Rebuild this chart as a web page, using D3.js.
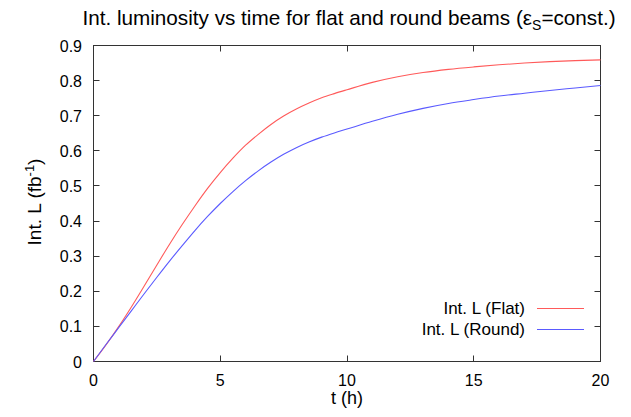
<!DOCTYPE html>
<html><head><meta charset="utf-8">
<script src="https://cdn.jsdelivr.net/npm/d3@7/dist/d3.min.js"></script>
<style>body{margin:0;background:#fff}svg{display:block}text{font-family:"Liberation Sans",Arial,sans-serif;fill:#000}</style>
</head><body>
<script>
const times = [0,0.5,1,1.5,2,2.5,3,3.5,4,4.5,5,5.5,6,6.5,7,7.5,8,8.5,9,9.5,10,11,12,13,14,15,16,17,18,19,20];
const flatL = [0,0.048,0.1,0.156,0.215,0.275,0.334,0.39,0.443,0.493,0.538,0.579,0.616,0.647,0.675,0.699,0.719,0.736,0.751,0.763,0.774,0.795,0.811,0.823,0.832,0.839,0.845,0.85,0.854,0.857,0.859];
const roundL = [0,0.049,0.097,0.145,0.193,0.24,0.286,0.33,0.373,0.413,0.45,0.484,0.515,0.543,0.568,0.59,0.609,0.625,0.639,0.651,0.662,0.684,0.704,0.721,0.735,0.746,0.756,0.764,0.772,0.779,0.786];
const xTicks = [0,5,10,15,20];
const yTicks = [0,0.1,0.2,0.3,0.4,0.5,0.6,0.7,0.8,0.9];
const seriesNames = ["Int. L (Flat)","Int. L (Round)"];
const seriesColors = ["#ff5a5a","#5a5aff"];

const W=631,H=417, L=93.5, R=600.5, T=45.5, B=361.5;
const svg=d3.select("body").append("svg").attr("width",W).attr("height",H);
const x=d3.scaleLinear().domain([0,20]).range([L,R]);
const y=d3.scaleLinear().domain([0,0.9]).range([B,T]);
const tl=6;

svg.append("rect").attr("x",L).attr("y",T).attr("width",R-L).attr("height",B-T).attr("fill","none").attr("stroke","#333").attr("stroke-width",1);

const g=svg.append("g").attr("stroke","#333").attr("stroke-width",1);
xTicks.forEach(t=>{
  const px=Math.round(x(t)-0.5)+0.5;
  g.append("line").attr("x1",px).attr("x2",px).attr("y1",B).attr("y2",B-tl);
  g.append("line").attr("x1",px).attr("x2",px).attr("y1",T).attr("y2",T+tl);
});
yTicks.forEach(t=>{
  const py=Math.round(y(t)-0.5)+0.5;
  g.append("line").attr("x1",L).attr("x2",L+tl).attr("y1",py).attr("y2",py);
  g.append("line").attr("x1",R).attr("x2",R-tl).attr("y1",py).attr("y2",py);
});
xTicks.forEach(t=>{
  svg.append("text").attr("x",x(t)).attr("y",B+24).attr("text-anchor","middle").attr("font-size",16).text(d3.format("d")(t));
});
yTicks.forEach(t=>{
  svg.append("text").attr("x",L-11.5).attr("y",y(t)+6).attr("text-anchor","end").attr("font-size",16).text(t===0?"0":d3.format(".1f")(t));
});

const data=[flatL,roundL];
const line=d3.line().x((d,i)=>x(times[i])).y(d=>y(d)).curve(d3.curveMonotoneX);
data.forEach((s,k)=>{
  svg.append("path").attr("d",line(s)).attr("fill","none").attr("stroke",seriesColors[k]).attr("stroke-width",1.1);
});

seriesNames.forEach((n,k)=>{
  const ly=308+k*21;
  svg.append("text").attr("x",525).attr("y",ly+6).attr("text-anchor","end").attr("font-size",17).text(n);
  svg.append("line").attr("x1",537).attr("x2",584).attr("y1",ly+0.5).attr("y2",ly+0.5).attr("stroke",seriesColors[k]).attr("stroke-width",1.1);
});

svg.append("text").attr("x",(L+R)/2).attr("y",404).attr("text-anchor","middle").attr("font-size",18).text("t (h)");
const yl=svg.append("text").attr("transform","translate(41,202) rotate(-90)").attr("text-anchor","middle").attr("font-size",19);
yl.append("tspan").text("Int. L (fb");
yl.append("tspan").attr("font-size",13).attr("dy",-7).text("-1");
yl.append("tspan").attr("dy",7).text(")");

const tt=svg.append("text").attr("x",349).attr("y",25).attr("text-anchor","middle").attr("font-size",20.7);
tt.append("tspan").text("Int. luminosity vs time for flat and round beams (ε");
tt.append("tspan").attr("font-size",14).attr("dy",5).text("S");
tt.append("tspan").attr("dy",-5).text("=const.)");
</script>
</body></html>
